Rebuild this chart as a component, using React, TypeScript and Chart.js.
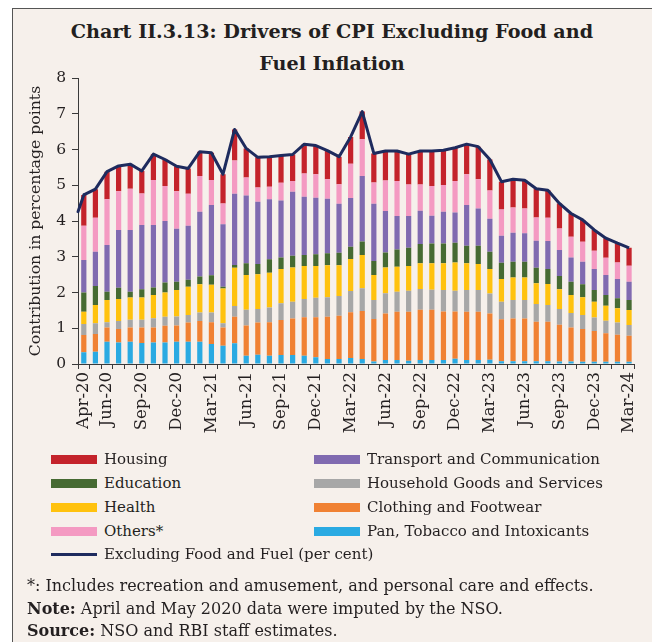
import React, { useEffect, useRef } from "react";
import { Chart, registerables } from "chart.js";
Chart.register(...registerables);

const months = [
  "Apr-20","May-20","Jun-20","Jul-20","Aug-20","Sep-20","Oct-20","Nov-20","Dec-20","Jan-21","Feb-21","Mar-21",
  "Apr-21","May-21","Jun-21","Jul-21","Aug-21","Sep-21","Oct-21","Nov-21","Dec-21","Jan-22","Feb-22","Mar-22",
  "Apr-22","May-22","Jun-22","Jul-22","Aug-22","Sep-22","Oct-22","Nov-22","Dec-22","Jan-23","Feb-23","Mar-23",
  "Apr-23","May-23","Jun-23","Jul-23","Aug-23","Sep-23","Oct-23","Nov-23","Dec-23","Jan-24","Feb-24","Mar-24",
];
const shownLabels = ["Apr-20","Jun-20","Sep-20","Dec-20","Mar-21","Jun-21","Sep-21","Dec-21","Mar-22","Jun-22","Sep-22","Dec-22","Mar-23","Jun-23","Sep-23","Dec-23","Mar-24"];
const yTicks = [0,1,2,3,4,5,6,7,8];

const pan = [0.33,0.34,0.62,0.60,0.62,0.59,0.60,0.60,0.62,0.62,0.62,0.56,0.51,0.58,0.23,0.26,0.23,0.25,0.25,0.23,0.19,0.14,0.14,0.17,0.14,0.07,0.11,0.11,0.09,0.11,0.11,0.11,0.15,0.11,0.11,0.12,0.08,0.08,0.08,0.08,0.08,0.07,0.07,0.06,0.06,0.06,0.06,0.06];
const clothing = [0.48,0.50,0.40,0.38,0.40,0.43,0.42,0.47,0.46,0.54,0.58,0.61,0.51,0.74,0.85,0.90,0.94,0.98,1.02,1.08,1.12,1.18,1.21,1.28,1.34,1.19,1.30,1.35,1.37,1.41,1.41,1.36,1.32,1.35,1.35,1.29,1.17,1.19,1.19,1.10,1.10,1.03,0.95,0.92,0.86,0.80,0.76,0.73];
const household = [0.31,0.30,0.15,0.22,0.22,0.22,0.26,0.25,0.25,0.21,0.24,0.27,0.12,0.30,0.44,0.38,0.41,0.47,0.47,0.51,0.54,0.55,0.55,0.59,0.64,0.53,0.57,0.56,0.59,0.58,0.56,0.60,0.58,0.61,0.61,0.56,0.49,0.52,0.52,0.50,0.47,0.44,0.41,0.39,0.38,0.35,0.34,0.30];
const health = [0.34,0.51,0.62,0.62,0.62,0.62,0.65,0.68,0.74,0.79,0.79,0.78,0.97,1.07,0.97,0.97,0.97,0.96,0.96,0.92,0.89,0.89,0.86,0.90,0.93,0.70,0.72,0.70,0.69,0.72,0.74,0.75,0.79,0.75,0.73,0.69,0.64,0.63,0.63,0.58,0.59,0.55,0.50,0.50,0.44,0.42,0.40,0.42];
const education = [0.54,0.53,0.23,0.31,0.16,0.23,0.21,0.28,0.23,0.20,0.22,0.26,0.05,0.08,0.33,0.29,0.38,0.32,0.33,0.31,0.33,0.34,0.35,0.34,0.38,0.39,0.42,0.48,0.51,0.54,0.55,0.55,0.55,0.49,0.51,0.48,0.45,0.44,0.44,0.43,0.42,0.37,0.37,0.36,0.33,0.30,0.28,0.28];
const transport = [0.91,0.96,1.31,1.62,1.73,1.80,1.75,1.72,1.48,1.51,1.81,1.97,1.75,1.99,1.89,1.74,1.68,1.59,1.79,1.63,1.58,1.52,1.37,1.36,1.83,1.60,1.16,0.94,0.89,0.93,0.78,0.89,0.85,1.14,1.04,0.92,0.76,0.81,0.80,0.76,0.78,0.73,0.68,0.63,0.59,0.56,0.54,0.51];
const others = [0.96,0.95,1.28,1.08,1.15,0.88,1.26,0.98,1.05,0.89,1.00,0.70,0.58,0.93,0.51,0.40,0.35,0.50,0.30,0.65,0.66,0.55,0.55,0.96,1.03,0.60,0.85,0.98,0.88,0.73,0.83,0.75,0.88,0.86,0.82,0.79,0.73,0.71,0.69,0.65,0.65,0.60,0.58,0.56,0.51,0.48,0.46,0.45];
const housing = [0.86,0.80,0.77,0.71,0.69,0.63,0.72,0.74,0.70,0.71,0.68,0.76,0.82,0.87,0.81,0.84,0.84,0.76,0.74,0.82,0.80,0.80,0.77,0.75,0.77,0.81,0.83,0.84,0.85,0.94,0.98,0.97,0.93,0.84,0.91,0.87,0.78,0.79,0.79,0.80,0.77,0.70,0.65,0.61,0.58,0.55,0.54,0.50];
const coreInflation = [4.73,4.89,5.38,5.54,5.59,5.40,5.87,5.72,5.53,5.47,5.94,5.91,5.31,6.56,6.03,5.78,5.80,5.83,5.86,6.15,6.11,5.97,5.80,6.35,7.06,5.89,5.96,5.96,5.87,5.96,5.96,5.98,6.05,6.15,6.08,5.72,5.10,5.17,5.14,4.90,4.86,4.49,4.21,4.03,3.75,3.52,3.38,3.25];
// value where the line begins, at the left edge of the axis
const coreLineStart = 4.26;

const FONT = '"DejaVu Serif", serif';
const C = {
  housing: "#C4232B",
  education: "#466A32",
  health: "#FFC20E",
  others: "#F49AC2",
  transport: "#806AB0",
  household: "#A7A7A7",
  clothing: "#F08133",
  pan: "#2AAAE2",
  line: "#1E2B5E",
  text: "#231F20",
  axis: "#3A3A3A",
  bg: "#F6F0EB",
};

const barSeries = [
  { label: "Pan, Tobacco and Intoxicants", data: pan, color: C.pan },
  { label: "Clothing and Footwear", data: clothing, color: C.clothing },
  { label: "Household Goods and Services", data: household, color: C.household },
  { label: "Health", data: health, color: C.health },
  { label: "Education", data: education, color: C.education },
  { label: "Transport and Communication", data: transport, color: C.transport },
  { label: "Others*", data: others, color: C.others },
  { label: "Housing", data: housing, color: C.housing },
];

const legendItems = [
  { label: "Housing", color: C.housing, col: 0, row: 0 },
  { label: "Transport and Communication", color: C.transport, col: 1, row: 0 },
  { label: "Education", color: C.education, col: 0, row: 1 },
  { label: "Household Goods and Services", color: C.household, col: 1, row: 1 },
  { label: "Health", color: C.health, col: 0, row: 2 },
  { label: "Clothing and Footwear", color: C.clothing, col: 1, row: 2 },
  { label: "Others*", color: C.others, col: 0, row: 3 },
  { label: "Pan, Tobacco and Intoxicants", color: C.pan, col: 1, row: 3 },
  { label: "Excluding Food and Fuel (per cent)", color: C.line, col: 0, row: 4, line: true },
];

// draws the short lead-in of the line from the axis edge to the first month, via the chart's scales
const lineLeadIn = {
  id: "lineLeadIn",
  afterDatasetsDraw(chart: any) {
    const { ctx, scales } = chart;
    const x = scales.x;
    const y = scales.y;
    ctx.save();
    ctx.strokeStyle = C.line;
    ctx.lineWidth = 3;
    ctx.lineCap = "round";
    ctx.beginPath();
    ctx.moveTo(x.left, y.getPixelForValue(coreLineStart));
    ctx.lineTo(x.getPixelForValue(0), y.getPixelForValue(coreInflation[0]));
    ctx.stroke();
    ctx.restore();
  },
};

function ChartCanvas() {
  const ref = useRef<HTMLCanvasElement | null>(null);
  useEffect(() => {
    if (!ref.current) return;
    const datasets: any[] = barSeries.map((s) => ({
      type: "bar",
      label: s.label,
      data: s.data,
      backgroundColor: s.color,
      borderWidth: 0,
      stack: "s",
      order: 1,
      categoryPercentage: 1,
      barPercentage: 0.45,
    }));
    datasets.push({
      type: "line",
      label: "Excluding Food and Fuel (per cent)",
      data: coreInflation,
      borderColor: C.line,
      borderWidth: 3,
      pointRadius: 0,
      tension: 0,
      fill: false,
      order: 0,
      borderJoinStyle: "round",
    });
    const chart = new Chart(ref.current, {
      type: "bar",
      data: { labels: months, datasets },
      plugins: [lineLeadIn],
      options: {
        responsive: false,
        animation: false,
        layout: { padding: { left: 0, right: 13, top: 78, bottom: 0 } },
        plugins: { legend: { display: false }, tooltip: { enabled: false } },
        scales: {
          x: {
            stacked: true,
            offset: true,
            grid: { display: true, offset: true, drawOnChartArea: false, drawTicks: true, tickLength: 5, color: C.axis, lineWidth: 1 },
            border: { display: true, color: C.axis, width: 1 },
            ticks: {
              autoSkip: false,
              maxRotation: 90,
              minRotation: 90,
              padding: 3,
              color: C.text,
              font: { family: FONT, size: 16.5 },
              callback: (_v: any, i: number) => (shownLabels.includes(months[i]) ? months[i] : ""),
            },
            afterFit: (s: any) => { s.height = 86; },
          },
          y: {
            stacked: true,
            min: yTicks[0],
            max: yTicks[yTicks.length - 1],
            grid: { display: true, drawOnChartArea: false, drawTicks: true, tickLength: 6, color: C.axis },
            border: { display: true, color: C.axis, width: 1 },
            ticks: { stepSize: 1, padding: 6, color: C.text, font: { family: FONT, size: 15.5 } },
            title: {
              display: true,
              text: "Contribution in percentage points",
              color: C.text,
              font: { family: FONT, size: 15.7 },
              padding: { top: 27, bottom: 0 },
            },
            afterFit: (s: any) => { s.width = 78; },
          },
        },
      },
    });
    return () => chart.destroy();
  }, []);
  return <canvas ref={ref} width={652} height={450} style={{ position: "absolute", left: 0, top: 0 }} />;
}

export default function App() {
  const colX = [51, 314];
  const rowY = [459, 483, 507, 531, 554];
  return (
    <div style={{ position: "fixed", left: 0, top: 0, width: 652, height: 642, overflow: "hidden", background: "#ffffff", fontFamily: FONT, color: C.text }}>
      <div style={{ position: "absolute", left: 12, top: 8, width: 660, height: 660, border: "1px solid #555", background: C.bg }} />
      <div style={{ position: "absolute", left: 12, width: 640, top: 16, textAlign: "center", fontWeight: "bold", fontSize: 19.2, lineHeight: "32px" }}>
        <div>Chart II.3.13: Drivers of CPI Excluding Food and</div>
        <div>Fuel Inflation</div>
      </div>
      <ChartCanvas />
      {legendItems.map((it) => (
        <div key={it.label} style={{ position: "absolute", left: colX[it.col], top: rowY[it.row] - 10, height: 20, display: "flex", alignItems: "center", fontSize: 15, whiteSpace: "nowrap" }}>
          <div style={{ width: 46, height: it.line ? 3 : 9, background: it.color, marginRight: 7 }} />
          <span>{it.label}</span>
        </div>
      ))}
      <div style={{ position: "absolute", left: 27, top: 575, fontSize: 16, lineHeight: "22.5px", whiteSpace: "nowrap" }}>
        <div>*: Includes recreation and amusement, and personal care and effects.</div>
        <div><b>Note:</b> April and May 2020 data were imputed by the NSO.</div>
        <div><b>Source:</b> NSO and RBI staff estimates.</div>
      </div>
    </div>
  );
}
